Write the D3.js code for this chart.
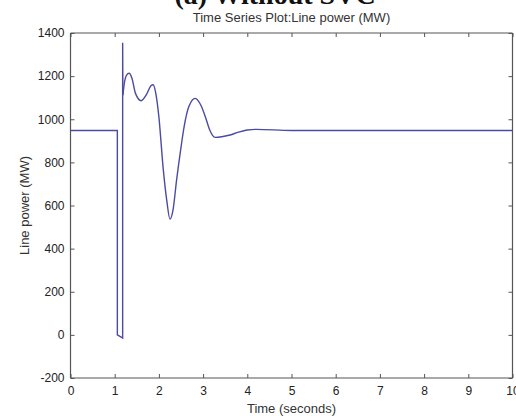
<!DOCTYPE html>
<html>
<head>
<meta charset="utf-8">
<script src="https://cdn.jsdelivr.net/npm/d3@7"></script>
<style>
  html, body { margin: 0; padding: 0; background: #fff; }
  svg { display: block; }
  text { font-family: "Liberation Sans", Arial, sans-serif; fill: #222; }
</style>
</head>
<body>
<svg id="chart" width="516" height="416"></svg>
<script>
// ---- data ----
const heading = "(a) Without SVC";
const title = "Time Series Plot:Line power (MW)";
const xLabel = "Time (seconds)";
const yLabel = "Line power (MW)";
const xTicks = [0, 1, 2, 3, 4, 5, 6, 7, 8, 9, 10];
const yTicks = [-200, 0, 200, 400, 600, 800, 1000, 1200, 1400];

// fault / step portion (straight segments)
const stepTime  = [0, 1.06, 1.06, 1.10, 1.18, 1.18, 1.185];
const stepPower = [948, 948, 0, -5, -15, 1355, 1112];

// post-fault oscillation (smooth)
const oscTime  = [1.185, 1.22, 1.27, 1.325, 1.39, 1.47, 1.6, 1.72, 1.82, 1.87, 1.93, 2.0, 2.1, 2.18, 2.25, 2.32, 2.4, 2.5, 2.57, 2.68, 2.82, 2.95, 3.05, 3.15, 3.27, 3.45, 3.61, 3.8, 4.0, 4.2, 5, 10];
const oscPower = [1112, 1170, 1205, 1213, 1190, 1120, 1086, 1115, 1155, 1160, 1120, 1010, 765, 620, 537, 580, 718, 870, 965, 1060, 1097, 1065, 1012, 950, 916, 920, 927, 940, 950, 953, 948, 948];

// ---- layout ----
const svg = d3.select("#chart");
const L = 70.5, R = 512.5, T = 33, B = 378;
const x = d3.scaleLinear().domain([0, 10]).range([L, R]);
const y = d3.scaleLinear().domain([-200, 1400]).range([B, T]);
const lineColor = "#4b4ba3";
const axisColor = "#555";
const tickLen = 4;

// heading (cut off at the top, as in the reference)
svg.append("text").attr("x", 275).attr("y", 4)
  .attr("text-anchor", "middle")
  .style("font-family", "'Liberation Serif', 'Times New Roman', serif")
  .style("font-weight", "bold").style("font-size", "28px").style("fill", "#111")
  .text(heading);

// title
svg.append("text").attr("x", (L + R) / 2).attr("y", 22)
  .attr("text-anchor", "middle").style("font-size", "13px").style("fill", "#333")
  .text(title);

// data lines
const g = svg.append("g");
const stepData = stepTime.map((t, i) => [t, stepPower[i]]);
const oscData = oscTime.map((t, i) => [t, oscPower[i]]);
g.append("path").datum(stepData)
  .attr("d", d3.line().x(d => x(d[0])).y(d => y(d[1])).curve(d3.curveLinear))
  .attr("fill", "none").attr("stroke", lineColor).attr("stroke-width", 1.4);
g.append("path").datum(oscData)
  .attr("d", d3.line().x(d => x(d[0])).y(d => y(d[1])).curve(d3.curveMonotoneX))
  .attr("fill", "none").attr("stroke", lineColor).attr("stroke-width", 1.4);

// axes (MATLAB box style, ticks inside on all four sides)
const fmt = d => String(d);
const axB = d3.axisBottom(x).tickValues(xTicks).tickSize(-tickLen).tickPadding(8).tickFormat(fmt);
const axT = d3.axisTop(x).tickValues(xTicks).tickSize(-tickLen).tickFormat("");
const axL = d3.axisLeft(y).tickValues(yTicks).tickSize(-tickLen).tickPadding(6).tickFormat(fmt);
const axR = d3.axisRight(y).tickValues(yTicks).tickSize(-tickLen).tickFormat("");

function style(sel) {
  sel.selectAll("path.domain").attr("stroke", axisColor).attr("stroke-width", 1.2);
  sel.selectAll(".tick line").attr("stroke", axisColor);
  sel.selectAll(".tick text").style("font-size", "12px").style("font-family", "'Liberation Sans', Arial, sans-serif").attr("fill", "#333");
}
const gb = svg.append("g").attr("transform", `translate(0,${B})`).call(axB); style(gb);
const gt = svg.append("g").attr("transform", `translate(0,${T})`).call(axT); style(gt);
const gl = svg.append("g").attr("transform", `translate(${L},0)`).call(axL); style(gl);
const gr = svg.append("g").attr("transform", `translate(${R},0)`).call(axR); style(gr);
gb.selectAll("path.domain").attr("d", `M${L},0H${R}`);
gt.selectAll("path.domain").attr("d", `M${L},0H${R}`);
gl.selectAll("path.domain").attr("d", `M0,${B}V${T}`);
gr.selectAll("path.domain").attr("d", `M0,${B}V${T}`);

// axis labels
svg.append("text").attr("x", (L + R) / 2).attr("y", 413)
  .attr("text-anchor", "middle").style("font-size", "13px").style("fill", "#333")
  .text(xLabel);
svg.append("text").attr("transform", `translate(29,${(T + B) / 2}) rotate(-90)`)
  .attr("text-anchor", "middle").style("font-size", "13px").style("fill", "#333")
  .text(yLabel);
</script>
</body>
</html>
